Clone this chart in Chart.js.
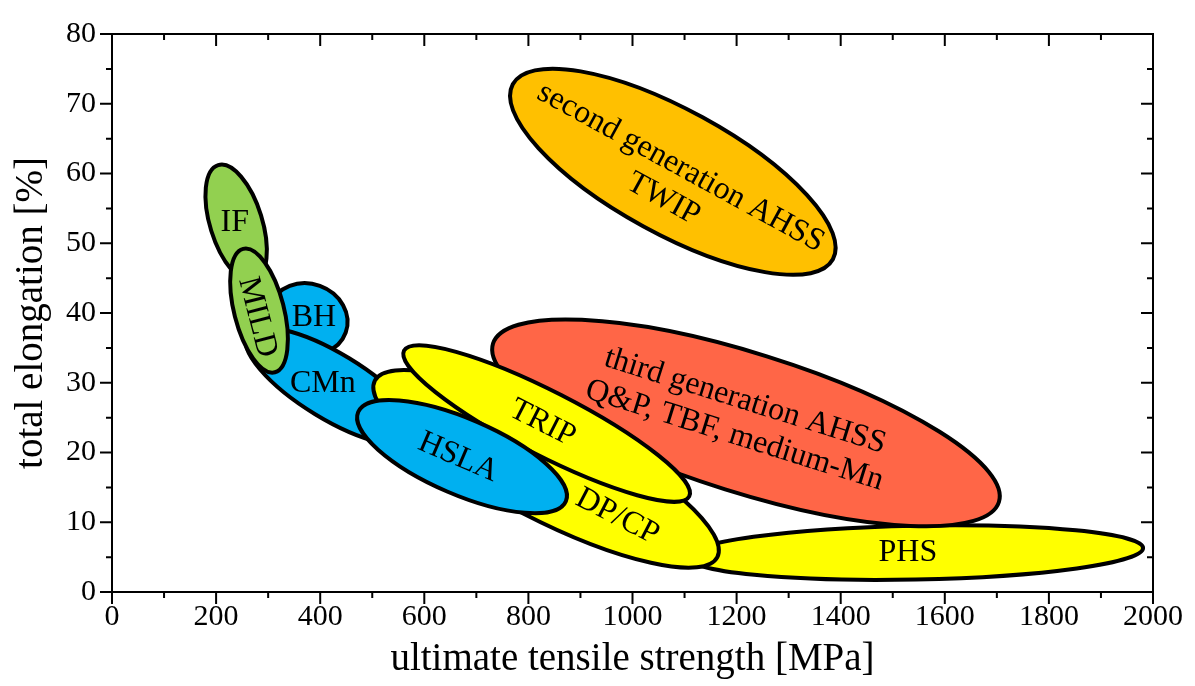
<!DOCTYPE html>
<html>
<head>
<meta charset="utf-8">
<script src="https://cdn.jsdelivr.net/npm/chart.js@4.4.1/dist/chart.umd.min.js"></script>
<style>
  html, body { margin: 0; padding: 0; background: #fff; }
  #wrap { width: 1195px; height: 686px; position: relative; }
</style>
</head>
<body>
<div id="wrap"><canvas id="myChart"></canvas></div>
<script>
// steel classes, drawn in this order (later ones on top)
const steelClasses = ['PHS', 'third generation AHSS', 'BH', 'CMn', 'IF', 'MILD', 'DP/CP', 'TRIP', 'HSLA', 'second generation AHSS'];
// each class is an ellipse from tip A to tip B (UTS in MPa, elongation in %)
const utsA   = [1105,  732,  304,  260,  204,  252,  505,  561,  473,  770];
const elongA = [ 5.0, 35.6, 41.1, 36.9, 61.2, 49.2, 30.3, 34.6, 25.8, 72.8];
const utsB   = [1981, 1704,  449,  586,  273,  313, 1163, 1109,  872, 1385];
const elongB = [ 6.3, 12.9, 37.2, 22.1, 44.6, 31.5,  5.0, 13.7, 13.0, 47.7];
// minor / major axis
const spread = [0.118, 0.263, 0.875, 0.33, 0.43, 0.39, 0.26, 0.20, 0.335, 0.34];

// label text and where it sits
const labelLines = [
  ['PHS'],
  ['third generation AHSS', 'Q&P, TBF, medium-Mn'],
  ['BH'], ['CMn'], ['IF'], ['MILD'], ['DP/CP'], ['TRIP'], ['HSLA'],
  ['second generation AHSS', 'TWIP']
];
const labelUts   = [1529, 1206, 388, 405, 236, 279, 971, 827, 665, 1076];
const labelElong = [ 5.6, 24.9, 39.4, 29.9, 52.9, 39.4, 10.8, 24.2, 19.3, 58.6];
const labelTilted = [false, true, false, false, false, true, true, true, true, true];

const xTicks = [0, 200, 400, 600, 800, 1000, 1200, 1400, 1600, 1800, 2000];
const yTicks = [0, 10, 20, 30, 40, 50, 60, 70, 80];

const fillColors = {
  'PHS': '#FFFF00', 'third generation AHSS': '#FF6647', 'BH': '#00B0F0', 'CMn': '#00B0F0',
  'IF': '#92D050', 'MILD': '#92D050', 'DP/CP': '#FFFF00', 'TRIP': '#FFFF00',
  'HSLA': '#00B0F0', 'second generation AHSS': '#FFC000'
};
const serif = '"Liberation Serif", "Times New Roman", serif';

const ellipsePlugin = {
  id: 'ellipses',
  beforeDatasetsDraw(chart) {
    const ctx = chart.ctx;
    const xs = chart.scales.x, ys = chart.scales.y;
    const angles = [];
    for (let i = 0; i < steelClasses.length; i++) {
      const x1 = xs.getPixelForValue(utsA[i]), y1 = ys.getPixelForValue(elongA[i]);
      const x2 = xs.getPixelForValue(utsB[i]), y2 = ys.getPixelForValue(elongB[i]);
      const rx = Math.hypot(x2 - x1, y2 - y1) / 2;
      const ang = Math.atan2(y2 - y1, x2 - x1);
      angles.push(ang);
      ctx.save();
      ctx.beginPath();
      ctx.ellipse((x1 + x2) / 2, (y1 + y2) / 2, rx, rx * spread[i], ang, 0, Math.PI * 2);
      ctx.fillStyle = fillColors[steelClasses[i]];
      ctx.fill();
      ctx.lineWidth = 4;
      ctx.strokeStyle = '#000';
      ctx.stroke();
      ctx.restore();
    }
    // labels on top of everything
    for (let i = 0; i < steelClasses.length; i++) {
      const lx = xs.getPixelForValue(labelUts[i]), ly = ys.getPixelForValue(labelElong[i]);
      const lines = labelLines[i];
      const lh = 36;
      ctx.save();
      ctx.translate(lx, ly);
      if (labelTilted[i]) ctx.rotate(angles[i]);
      ctx.font = '32px ' + serif;
      ctx.fillStyle = '#000';
      ctx.textAlign = 'center';
      ctx.textBaseline = 'middle';
      lines.forEach(function (t, k) {
        ctx.fillText(t, 0, (k - (lines.length - 1) / 2) * lh);
      });
      ctx.restore();
    }
  },
  afterDraw(chart) {
    // frame plus ticks: outward on left/bottom, inward on top/right
    const ctx = chart.ctx;
    const a = chart.chartArea;
    const xs = chart.scales.x, ys = chart.scales.y;
    ctx.save();
    ctx.strokeStyle = '#000';
    ctx.lineWidth = 2;
    ctx.strokeRect(a.left, a.top, a.right - a.left, a.bottom - a.top);
    ctx.beginPath();
    for (let v = 0; v <= 2000; v += 100) {
      const px = xs.getPixelForValue(v);
      const len = v % 200 === 0 ? 12 : 6;
      ctx.moveTo(px, a.bottom); ctx.lineTo(px, a.bottom + len);
      ctx.moveTo(px, a.top); ctx.lineTo(px, a.top + len);
    }
    for (let v = 0; v <= 80; v += 5) {
      const py = ys.getPixelForValue(v);
      const len = v % 10 === 0 ? 12 : 6;
      ctx.moveTo(a.left, py); ctx.lineTo(a.left - len, py);
      ctx.moveTo(a.right, py); ctx.lineTo(a.right - len, py);
    }
    ctx.stroke();
    ctx.restore();
  }
};

function plainNumber(v) { return String(v); }

let ctx = document.getElementById('myChart').getContext('2d');
let myChart = new Chart(ctx, {
  type: 'scatter',
  data: { datasets: [] },
  options: {
    responsive: true,
    maintainAspectRatio: false,
    animation: false,
    layout: { padding: { top: 20, right: 42, bottom: 0, left: 0 } },
    plugins: { legend: { display: false }, tooltip: { enabled: false } },
    scales: {
      x: {
        type: 'linear', min: xTicks[0], max: xTicks[xTicks.length - 1],
        afterBuildTicks: function (s) { s.ticks = xTicks.map(function (v) { return { value: v }; }); },
        afterFit: function (s) { s.height = 94; },
        grid: { display: false, drawTicks: false }, border: { display: false },
        ticks: { color: '#000', font: { family: serif, size: 30 }, padding: 7, maxRotation: 0, callback: plainNumber },
        title: { display: true, text: 'ultimate tensile strength [MPa]', color: '#000',
                 font: { family: serif, size: 39 }, padding: { top: 0, bottom: 3 } }
      },
      y: {
        type: 'linear', min: yTicks[0], max: yTicks[yTicks.length - 1],
        afterBuildTicks: function (s) { s.ticks = yTicks.map(function (v) { return { value: v }; }); },
        afterFit: function (s) { s.width = 112; },
        grid: { display: false, drawTicks: false }, border: { display: false },
        ticks: { color: '#000', font: { family: serif, size: 30 }, padding: 16, callback: plainNumber },
        title: { display: true, text: 'total elongation [%]', color: '#000',
                 font: { family: serif, size: 39 }, padding: { top: 8, bottom: 0 } }
      }
    }
  },
  plugins: [ellipsePlugin]
});
</script>
</body>
</html>
